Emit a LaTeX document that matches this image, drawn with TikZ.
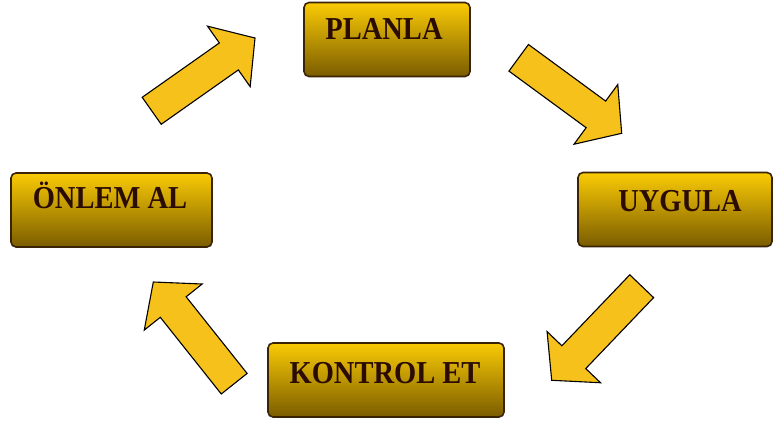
\documentclass[tikz,border=0pt]{standalone}
\usepackage{fontspec}
\usepackage{graphicx}
\setmainfont{Liberation Serif}
\usetikzlibrary{calc}
\definecolor{boxtop}{HTML}{FACB05}
\definecolor{boxmid}{HTML}{E0AE04}
\definecolor{boxbot}{HTML}{7A5C00}
\definecolor{boxline}{HTML}{3A2408}
\definecolor{arrowfill}{HTML}{F7C11C}
\definecolor{textcol}{HTML}{2A0C02}
\tikzset{
  stepbox/.style={draw=boxline, line width=1.6pt, rounded corners=5pt,
    top color=boxtop, middle color=boxmid, bottom color=boxbot,
    minimum width=#1, minimum height=74pt, inner sep=0pt},
  boxtext/.style={anchor=base, text=textcol, inner sep=0pt,
    font=\fontsize{28.5}{30}\selectfont\bfseries},
  blockarr/.style={draw=black, line width=1.1pt, fill=arrowfill, line join=miter}
}
\newcommand\blockarrow[2]{%
  \coordinate (bh) at ($(#2)!32pt!(#1)$);
  \draw[blockarr] ($(#1)!16.5pt!90:(#2)$) -- ($(bh)!16.5pt!90:(#2)$) --
    ($(bh)!37pt!90:(#2)$) -- (#2) -- ($(bh)!37pt!-90:(#2)$) --
    ($(bh)!16.5pt!-90:(#2)$) -- ($(#1)!16.5pt!-90:(#2)$) -- cycle;}
\begin{document}
\begin{tikzpicture}[x=1pt, y=-1pt]
\useasboundingbox[fill=white] (0,0) rectangle (774,423);
% boxes
\node[stepbox=166pt] (planla) at (387,39.5) {};
\node[stepbox=194pt] (uygula) at (675,209.5) {};
\node[stepbox=201pt] (onlem) at (111.5,210) {};
\node[stepbox=236pt] (kontrol) at (386,380) {};
% texts
\node[boxtext] (planlat) at (384,39.3) {\scalebox{1}[1.12]{PLANLA}};
\node[boxtext] (uygulat) at (680,211.7) {\scalebox{1}[1.12]{UYGULA}};
\node[boxtext] (onlemt) at (110,208.3) {\scalebox{1}[1.12]{ÖNLEM AL}};
\node[boxtext] (kontrolt) at (385,383.3) {\scalebox{1}[1.12]{KONTROL ET}};
% arrow ends
\coordinate (a1t) at (151.7,110.8); \coordinate (a1h) at (255,38);
\coordinate (a2t) at (518.7,57.8);  \coordinate (a2h) at (621.7,133.3);
\coordinate (a3t) at (641.7,286.2); \coordinate (a3h) at (551.7,380.3);
\coordinate (a4t) at (234.2,383.7); \coordinate (a4h) at (153.3,282);
\blockarrow{a1t}{a1h}
\blockarrow{a2t}{a2h}
\blockarrow{a3t}{a3h}
\blockarrow{a4t}{a4h}
\end{tikzpicture}
\end{document}
